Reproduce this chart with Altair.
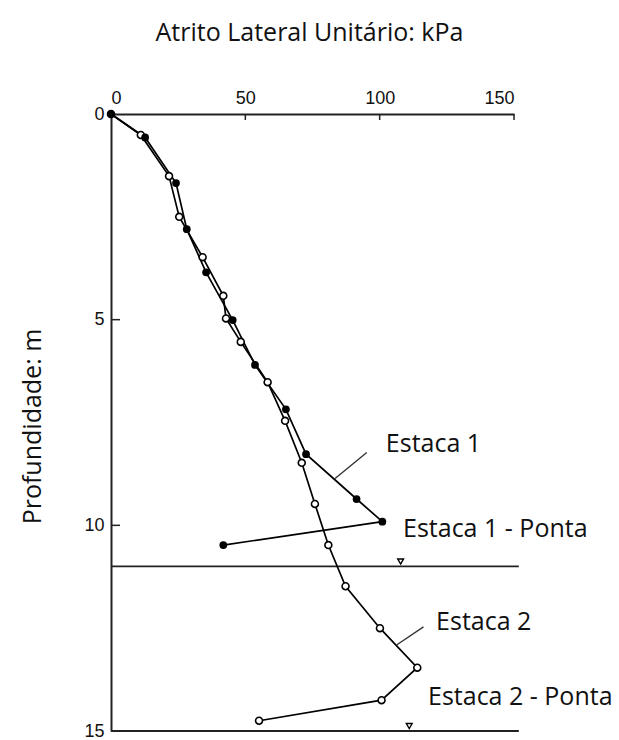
import altair as alt
import pandas as pd

# Unit lateral friction (kPa) versus depth (m) for two piles
e1_atrito = [0, 12.7, 24.2, 28.2, 35.4, 45.3, 53.6, 65.1, 72.6, 91.4, 101.0, 41.8]
e1_prof = [0, 0.57, 1.68, 2.80, 3.85, 5.01, 6.10, 7.18, 8.27, 9.36, 9.91, 10.48]

e2_atrito = [0, 11.1, 21.6, 25.4, 34.1, 41.8, 42.8, 48.3, 58.3, 64.8, 71.0, 75.9,
             80.9, 87.3, 100.1, 114.0, 100.7, 55.1]
e2_prof = [0, 0.51, 1.51, 2.50, 3.48, 4.42, 4.97, 5.54, 6.52, 7.46, 8.48, 9.48,
           10.48, 11.48, 12.50, 13.46, 14.25, 14.75]

# Pile tip levels and the marker placed on each
pontas_prof = [11.0, 15.0]
marcador_atrito = [107.8, 111.0]

x_ticks = [0, 50, 100, 150]
y_ticks = [0, 5, 10, 15]

rotulos = ["Estaca 1", "Estaca 1 - Ponta", "Estaca 2", "Estaca 2 - Ponta"]
rotulo_x = [102.3, 108.7, 121.0, 118.0]
rotulo_y = [8.02, 10.09, 12.35, 14.17]

# leader lines from the curve to the label
guia_x = [83.4, 95.2, 106.3, 116.3]
guia_y = [8.86, 8.23, 12.91, 12.47]
guia_id = ["e1", "e1", "e2", "e2"]

FONT = "Open Sans"
TXT = 25
W, H = 403, 617

e1 = pd.DataFrame({"atrito": e1_atrito, "prof": e1_prof, "ordem": range(len(e1_prof))})
e2 = pd.DataFrame({"atrito": e2_atrito, "prof": e2_prof, "ordem": range(len(e2_prof))})

xs = alt.Scale(domain=[0, 150], nice=False, zero=False)
ys = alt.Scale(domain=[0, 15], reverse=True, nice=False, zero=False)

X = alt.X(
    "atrito:Q", scale=xs,
    axis=alt.Axis(
        orient="top", values=x_ticks, ticks=False, grid=False,
        domainColor="#222", domainWidth=2, labelPadding=7,
        labelFont="Liberation Sans", labelFontSize=18, labelColor="#111",
        title="Atrito Lateral Unitário: kPa", titleFont=FONT, titleFontSize=TXT,
        titleFontWeight="normal", titleColor="#111", titleX=198, titleY=-74,
        titleAlign="center", titleBaseline="alphabetic",
    ),
)
Y = alt.Y(
    "prof:Q", scale=ys,
    axis=alt.Axis(
        orient="left", values=y_ticks, ticks=False, grid=False,
        domainColor="#222", domainWidth=2, labelPadding=7,
        labelFont="Liberation Sans", labelFontSize=18, labelColor="#111",
        title="Profundidade: m", titleFont=FONT, titleFontSize=TXT,
        titleFontWeight="normal", titleColor="#111", titleX=-71, titleY=312,
        titleAngle=-90, titleAlign="center", titleBaseline="alphabetic",
    ),
)

linha1 = alt.Chart(e1).mark_line(color="black", strokeWidth=1.7).encode(
    x=X, y=Y, order="ordem:Q")
linha2 = alt.Chart(e2).mark_line(color="black", strokeWidth=1.7).encode(
    x=alt.X("atrito:Q", scale=xs), y=alt.Y("prof:Q", scale=ys), order="ordem:Q")
pontos2 = alt.Chart(e2).mark_point(
    shape="circle", filled=True, fill="white", stroke="black", strokeWidth=1.6,
    size=48, opacity=1).encode(
    x=alt.X("atrito:Q", scale=xs), y=alt.Y("prof:Q", scale=ys))
pontos1 = alt.Chart(e1).mark_point(
    shape="circle", filled=True, color="black", size=60, opacity=1).encode(
    x=alt.X("atrito:Q", scale=xs), y=alt.Y("prof:Q", scale=ys))

niveis = pd.DataFrame({"prof": pontas_prof, "x0": [0, 0], "x1": [151.8, 151.8],
                       "atrito": marcador_atrito})
regua = alt.Chart(niveis).mark_rule(color="#222", strokeWidth=1.8).encode(
    x=alt.X("x0:Q", scale=xs), x2="x1:Q", y=alt.Y("prof:Q", scale=ys))
triangulos = alt.Chart(niveis).mark_point(
    shape="triangle-down", filled=True, fill="white", stroke="black",
    strokeWidth=1.4, size=34, opacity=1, yOffset=-5).encode(
    x=alt.X("atrito:Q", scale=xs), y=alt.Y("prof:Q", scale=ys))

# inward tick marks on both axes
tx = pd.DataFrame({"v": x_ticks[1:]})
ticks_x = alt.Chart(tx).mark_rule(color="#222", strokeWidth=1.5).encode(
    x=alt.X("v:Q", scale=xs), y=alt.value(0), y2=alt.value(6))
ty = pd.DataFrame({"v": y_ticks[1:3]})
ticks_y = alt.Chart(ty).mark_rule(color="#222", strokeWidth=1.5).encode(
    y=alt.Y("v:Q", scale=ys), x=alt.value(0), x2=alt.value(9))

guias = pd.DataFrame({"gx": guia_x, "gy": guia_y, "id": guia_id})
linhas_guia = alt.Chart(guias).mark_line(color="#333", strokeWidth=1.4).encode(
    x=alt.X("gx:Q", scale=xs), y=alt.Y("gy:Q", scale=ys), detail="id:N")

rot = pd.DataFrame({"t": rotulos, "rx": rotulo_x, "ry": rotulo_y})
textos = alt.Chart(rot).mark_text(
    align="left", baseline="middle", font=FONT, fontSize=TXT, color="#111").encode(
    x=alt.X("rx:Q", scale=xs), y=alt.Y("ry:Q", scale=ys), text="t:N")

chart = alt.layer(
    regua, ticks_x, ticks_y, linha1, linha2, linhas_guia, triangulos,
    pontos2, pontos1, textos,
).properties(
    width=W, height=H,
    autosize=alt.AutoSizeParams(type="none"),
    padding={"left": 111, "top": 114, "right": 105, "bottom": 9},
).configure(background="white").configure_view(stroke="transparent", strokeWidth=0)

chart.save("out.html", embed_options={"renderer": "svg", "actions": False})
